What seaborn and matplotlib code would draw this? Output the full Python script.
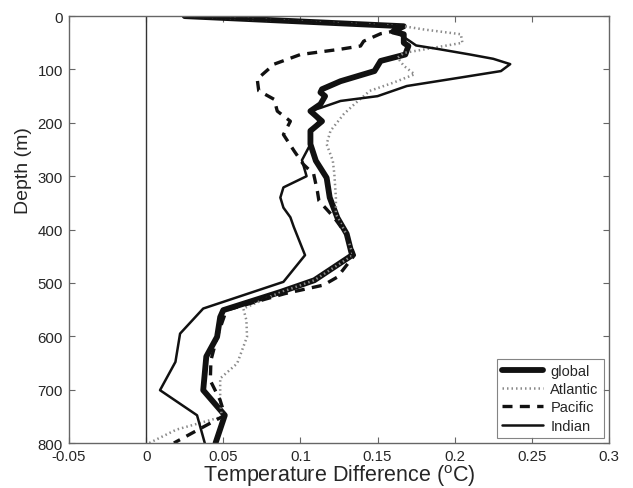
import matplotlib
matplotlib.use("Agg")
import matplotlib.pyplot as plt
import seaborn as sns
import numpy as np

# ---- data ----
global_depth = [0, 19, 29, 34, 50, 56, 72, 84, 103, 122, 137, 143, 150, 165, 178, 197, 215, 240, 271, 303,
                340, 378, 408, 448, 495, 517, 551, 564, 601, 638, 701, 748, 800]
global_val = [0.025, 0.167, 0.160, 0.167, 0.167, 0.170, 0.168, 0.152, 0.148, 0.126, 0.114, 0.113, 0.116, 0.113,
              0.1065, 0.114, 0.1065, 0.1065, 0.110, 0.117, 0.119, 0.124, 0.130, 0.1335, 0.109, 0.087, 0.050,
              0.048, 0.046, 0.039, 0.037, 0.051, 0.045]

atlantic_depth = [0, 19, 25, 34, 50, 60, 69, 78, 93, 109, 125, 140, 165, 184, 215, 240, 271, 296, 340, 371,
                  410, 448, 495, 520, 548, 570, 601, 651, 679, 720, 751, 775, 800]
atlantic_val = [0.025, 0.167, 0.180, 0.204, 0.205, 0.185, 0.167, 0.163, 0.167, 0.174, 0.160, 0.145, 0.135,
                0.128, 0.1195, 0.117, 0.121, 0.122, 0.123, 0.123, 0.130, 0.134, 0.109, 0.085, 0.063, 0.065,
                0.0654, 0.059, 0.048, 0.048, 0.049, 0.0195, 0.002]

pacific_depth = [0, 19, 28, 33, 47, 56, 62, 72, 90, 118, 140, 156, 178, 197, 222, 253, 278, 296, 328, 346,
                 378, 410, 448, 489, 504, 520, 551, 601, 645, 683, 720, 748, 770, 800]
pacific_val = [0.025, 0.167, 0.161, 0.152, 0.141, 0.139, 0.126, 0.100, 0.083, 0.072, 0.073, 0.083, 0.085,
               0.0935, 0.089, 0.096, 0.102, 0.1086, 0.111, 0.112, 0.122, 0.130, 0.135, 0.124, 0.115, 0.090,
               0.052, 0.046, 0.042, 0.0416, 0.048, 0.051, 0.037, 0.018]

indian_depth = [0, 20, 30, 45, 55, 62, 72, 80, 90, 103, 115, 131, 150, 159, 172, 178, 197, 215, 240, 270,
                300, 321, 340, 359, 377, 395, 448, 498, 548, 595, 648, 701, 748, 800]
indian_val = [0.025, 0.166, 0.162, 0.170, 0.175, 0.190, 0.210, 0.225, 0.236, 0.230, 0.204, 0.169, 0.150,
              0.126, 0.113, 0.1065, 0.112, 0.1065, 0.1065, 0.101, 0.104, 0.089, 0.087, 0.089, 0.0935, 0.0957,
              0.103, 0.089, 0.037, 0.022, 0.019, 0.009, 0.033, 0.038]

x_ticks = [-0.05, 0, 0.05, 0.1, 0.15, 0.2, 0.25, 0.3]
x_ticklabels = ["-0.05", "0", "0.05", "0.1", "0.15", "0.2", "0.25", "0.3"]
y_ticks = [0, 100, 200, 300, 400, 500, 600, 700, 800]

sns.set_theme(style="white")
plt.rcParams['font.family'] = ['Liberation Sans', 'DejaVu Sans']
plt.rcParams['mathtext.default'] = 'regular'

fig = plt.figure(figsize=(6.33, 4.89), dpi=100)
ax = fig.add_axes([0.109, 0.092, 0.853, 0.873])

ax.axvline(0, color='#333333', lw=1.0, zorder=1)

sns.lineplot(x=global_val, y=global_depth, orient='y', sort=False, estimator=None, ax=ax,
             color='#111111', lw=4.2, label='global')
sns.lineplot(x=atlantic_val, y=atlantic_depth, orient='y', sort=False, estimator=None, ax=ax,
             color='#8a8a8a', lw=1.8, linestyle=(0, (0.6, 1.2)), label='Atlantic')
sns.lineplot(x=pacific_val, y=pacific_depth, orient='y', sort=False, estimator=None, ax=ax,
             color='#111111', lw=2.4, linestyle=(0, (3.0, 2.2)), label='Pacific')
sns.lineplot(x=indian_val, y=indian_depth, orient='y', sort=False, estimator=None, ax=ax,
             color='#111111', lw=1.8, label='Indian')

ax.set_xlim(-0.05, 0.3)
ax.set_ylim(800, 0)
ax.set_xticks(x_ticks)
ax.set_xticklabels(x_ticklabels)
ax.set_yticks(y_ticks)
ax.tick_params(direction='in', length=4, width=0.8, color='#666666', labelsize=10.8,
               top=True, right=True, bottom=True, left=True, pad=4.3)
for s in ax.spines.values():
    s.set_color('#666666')
    s.set_linewidth(1.0)

ax.set_xlabel("Temperature Difference ($^{o}$C)", fontsize=15.5)
ax.xaxis.set_label_coords(0.5, -0.046)
ax.set_ylabel("Depth (m)", fontsize=14)
ax.yaxis.set_label_coords(-0.068, 0.64)

leg = ax.legend(loc='lower right', fontsize=10.5, frameon=True, fancybox=False,
                edgecolor='#666666', handlelength=2.8, borderpad=0.35, labelspacing=0.3,
                borderaxespad=0.35, handletextpad=0.5)
leg.get_frame().set_linewidth(0.8)

fig.savefig("out.png", dpi=100)
